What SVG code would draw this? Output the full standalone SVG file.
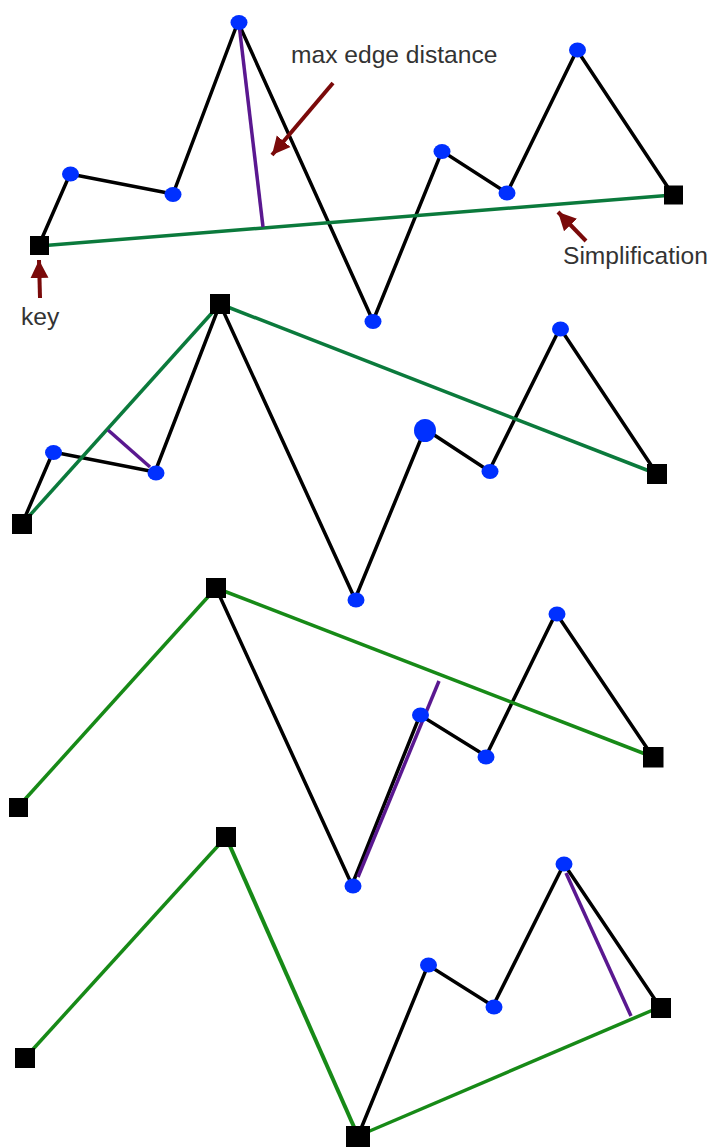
<svg xmlns="http://www.w3.org/2000/svg" width="712" height="1147" viewBox="0 0 712 1147">
<defs>
<style>
.bk{fill:none;stroke:#000;stroke-width:3.5;stroke-linejoin:miter}
.gt{fill:none;stroke:#0b7a3c;stroke-width:3.5}
.gg{fill:none;stroke:#178a17;stroke-width:3.5}
.pu{fill:none;stroke:#5a1890;stroke-width:3.5}
.ar{fill:none;stroke:#7a0a0a;stroke-width:4;marker-end:url(#ah)}
.dot{fill:#0030ff}
.sq{fill:#000}
.lbl{font-family:"Liberation Sans",Arial,sans-serif;font-size:24.6px;fill:#333}
</style>
<marker id="ah" markerUnits="userSpaceOnUse" markerWidth="20" markerHeight="20" viewBox="0 0 20 20" refX="18" refY="10" orient="auto">
<path d="M0,1 L18,10 L0,19 Z" fill="#7a0a0a"/>
</marker>
</defs>
<rect width="712" height="1147" fill="#fff"/>
<g id="connectors">
<!-- panel 1 -->
<polyline class="bk" points="39,245 70,174 173,194 238,22 373,321 442,151 507,193 577,50 673,195"/>
<line class="gt" x1="39" y1="246" x2="673" y2="195"/>
<line class="pu" x1="239" y1="24" x2="263" y2="227"/>
<line class="ar" x1="333" y1="83" x2="272" y2="155"/>
<line class="ar" x1="586" y1="241" x2="558" y2="212"/>
<line class="ar" x1="40" y1="298" x2="39" y2="260"/>
<!-- panel 2 -->
<polyline class="bk" points="22,524 53,452 155,472 220,304 355,599 425,429 489,471 560,328 657,474"/>
<line class="gt" x1="22" y1="524" x2="220" y2="304"/>
<line class="gt" x1="220" y1="304" x2="657" y2="474"/>
<line class="pu" x1="108" y1="430" x2="150" y2="467"/>
<!-- panel 3 -->
<polyline class="bk" points="216,588 352,885 420,715 486,756 556,613 653,757"/>
<line class="gg" x1="18" y1="807" x2="216" y2="588"/>
<line class="gg" x1="216" y1="588" x2="653" y2="757"/>
<line class="pu" x1="439" y1="681" x2="358" y2="877"/>
<!-- panel 4 -->
<polyline class="bk" points="358,1136 428,965 493,1006 564,864 660,1007"/>
<line class="gg" x1="25" y1="1058" x2="226" y2="837"/>
<line class="gg" x1="226" y1="837" x2="358" y2="1136" style="stroke-width:4"/>
<line class="gg" x1="358" y1="1136" x2="660" y2="1007"/>
<line class="pu" x1="566" y1="873" x2="631" y2="1016"/>
</g>
<!-- panel 1 nodes -->
<g id="p1n1"><rect class="sq" x="30" y="236" width="19" height="19"/></g>
<g id="p1n2"><ellipse class="dot" cx="70.5" cy="174" rx="8.5" ry="7.5"/></g>
<g id="p1n3"><ellipse class="dot" cx="173" cy="194.5" rx="8.5" ry="7.5"/></g>
<g id="p1n4"><ellipse class="dot" cx="239" cy="22.5" rx="8.5" ry="7.5"/></g>
<g id="p1n5"><ellipse class="dot" cx="373" cy="321.5" rx="8.5" ry="7.5"/></g>
<g id="p1n6"><ellipse class="dot" cx="442" cy="151.5" rx="8.5" ry="7.5"/></g>
<g id="p1n7"><ellipse class="dot" cx="507" cy="193" rx="8.5" ry="7.5"/></g>
<g id="p1n8"><ellipse class="dot" cx="577.5" cy="50" rx="8.5" ry="7.5"/></g>
<g id="p1n9"><rect class="sq" x="664" y="185.5" width="19" height="19"/></g>
<g id="label-max"><text class="lbl" x="291" y="63">max edge distance</text></g>
<g id="label-simp"><text class="lbl" x="563" y="264">Simplification</text></g>
<g id="label-key"><text class="lbl" x="21" y="325">key</text></g>
<!-- panel 2 nodes -->
<g id="p2n1"><rect class="sq" x="12" y="514" width="20" height="20"/></g>
<g id="p2n2"><ellipse class="dot" cx="53.5" cy="452.5" rx="8.5" ry="7.5"/></g>
<g id="p2n3"><ellipse class="dot" cx="156" cy="473" rx="8.5" ry="7.5"/></g>
<g id="p2n4"><rect class="sq" x="210" y="294" width="20" height="20"/></g>
<g id="p2n5"><ellipse class="dot" cx="356" cy="600" rx="8.5" ry="7.5"/></g>
<g id="p2n6"><ellipse class="dot" cx="425" cy="430.5" rx="11" ry="11.5"/></g>
<g id="p2n7"><ellipse class="dot" cx="490" cy="471.5" rx="8.5" ry="7.5"/></g>
<g id="p2n8"><ellipse class="dot" cx="560.5" cy="329" rx="8.5" ry="7.5"/></g>
<g id="p2n9"><rect class="sq" x="647" y="464" width="20" height="20"/></g>
<!-- panel 3 nodes -->
<g id="p3n1"><rect class="sq" x="9" y="798" width="19" height="19"/></g>
<g id="p3n4"><rect class="sq" x="206" y="578" width="20" height="20"/></g>
<g id="p3n5"><ellipse class="dot" cx="353" cy="886" rx="8.5" ry="7.5"/></g>
<g id="p3n6"><ellipse class="dot" cx="420.5" cy="715" rx="8.5" ry="7.5"/></g>
<g id="p3n7"><ellipse class="dot" cx="486" cy="757" rx="8.5" ry="7.5"/></g>
<g id="p3n8"><ellipse class="dot" cx="557" cy="614" rx="8.5" ry="7.5"/></g>
<g id="p3n9"><rect class="sq" x="643" y="747" width="20.5" height="20.5"/></g>
<!-- panel 4 nodes -->
<g id="p4n1"><rect class="sq" x="15" y="1048" width="20" height="20"/></g>
<g id="p4n4"><rect class="sq" x="216" y="827" width="20" height="20"/></g>
<g id="p4n5"><rect class="sq" x="346" y="1126" width="24" height="24"/></g>
<g id="p4n6"><ellipse class="dot" cx="428.5" cy="965" rx="8.5" ry="7.5"/></g>
<g id="p4n7"><ellipse class="dot" cx="494" cy="1007" rx="8.5" ry="7.5"/></g>
<g id="p4n8"><ellipse class="dot" cx="564" cy="864" rx="8.5" ry="7.5"/></g>
<g id="p4n9"><rect class="sq" x="651" y="998" width="20" height="20"/></g>
</svg>
